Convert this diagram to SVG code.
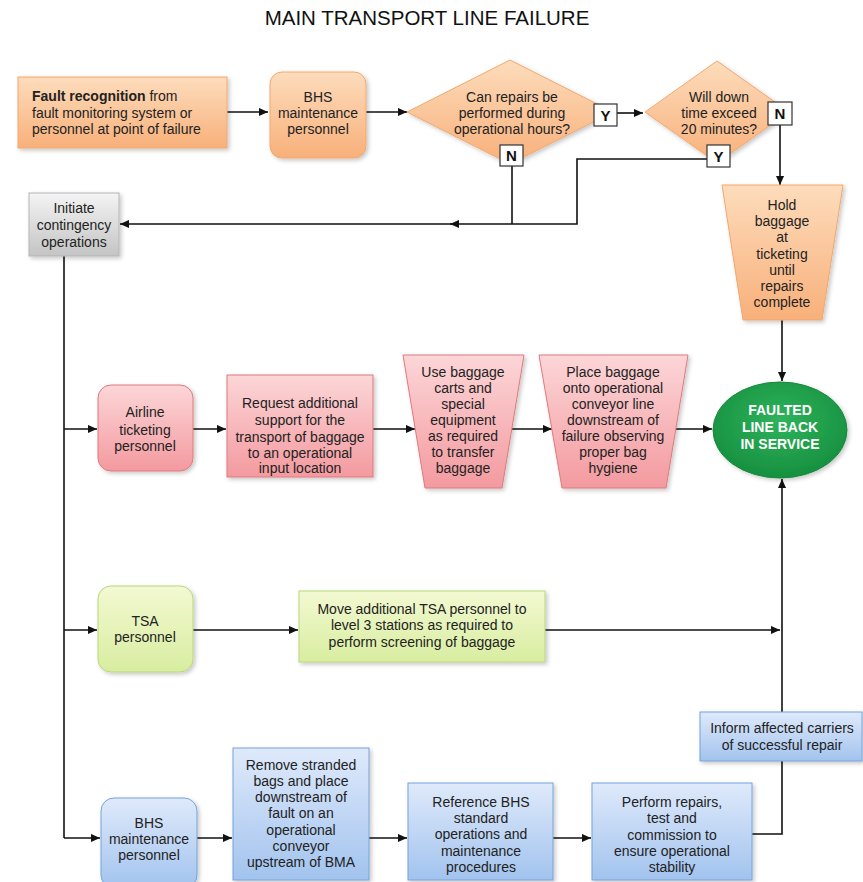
<svg xmlns="http://www.w3.org/2000/svg" width="863" height="882" viewBox="0 0 863 882">
  <defs>
    <linearGradient id="gOrange" x1="0" y1="0" x2="0" y2="1">
      <stop offset="0" stop-color="#fddcbc"/>
      <stop offset="1" stop-color="#f8b07a"/>
    </linearGradient>
    <linearGradient id="gRed" x1="0" y1="0" x2="0" y2="1">
      <stop offset="0" stop-color="#fcd6d8"/>
      <stop offset="1" stop-color="#f39a9f"/>
    </linearGradient>
    <linearGradient id="gGreen" x1="0" y1="0" x2="0" y2="1">
      <stop offset="0" stop-color="#f3f9d2"/>
      <stop offset="1" stop-color="#d8eda0"/>
    </linearGradient>
    <linearGradient id="gBlue" x1="0" y1="0" x2="0" y2="1">
      <stop offset="0" stop-color="#dfeafb"/>
      <stop offset="1" stop-color="#a2c3ee"/>
    </linearGradient>
    <linearGradient id="gGray" x1="0" y1="0" x2="0" y2="1">
      <stop offset="0" stop-color="#f4f4f4"/>
      <stop offset="1" stop-color="#c4c4c4"/>
    </linearGradient>
    <radialGradient id="gEnd" cx="0.5" cy="0.4" r="0.6">
      <stop offset="0" stop-color="#2fb35c"/>
      <stop offset="1" stop-color="#16903f"/>
    </radialGradient>
    <filter id="shadow" x="-10%" y="-10%" width="125%" height="125%">
      <feDropShadow dx="2" dy="2" stdDeviation="2" flood-color="#000" flood-opacity="0.22"/>
    </filter>
    <marker id="arrow" viewBox="0 0 10 10" refX="10" refY="5" markerWidth="9" markerHeight="9" markerUnits="userSpaceOnUse" orient="auto">
      <path d="M0,0.5 L10,5 L0,9.5 z" fill="#111"/>
    </marker>
  </defs>
  <style>
    text { font-family: "Liberation Sans", Arial, sans-serif; font-size: 14px; fill: #222; text-anchor: middle; }
    .title { font-size: 20.5px; fill: #111; }
    .left { text-anchor: start; }
    .b { font-weight: bold; }
    .end { fill: #fff; font-weight: bold; }
    .orange { fill: url(#gOrange); stroke: #f2a86c; stroke-width: 1; filter: url(#shadow); }
    .red { fill: url(#gRed); stroke: #e0797e; stroke-width: 1; filter: url(#shadow); }
    .green { fill: url(#gGreen); stroke: #b9d67c; stroke-width: 1; filter: url(#shadow); }
    .blue { fill: url(#gBlue); stroke: #76a2da; stroke-width: 1; filter: url(#shadow); }
    .gray { fill: url(#gGray); stroke: #b5b5b5; stroke-width: 1; filter: url(#shadow); }
    .tag { fill: #fff; stroke: #333; stroke-width: 1.2; }
    .tagt { font-weight: bold; font-size: 15px; fill: #111; }
    .conn path { fill: none; stroke: #111; stroke-width: 1.6; }
    .conn .a { marker-end: url(#arrow); }
  </style>

  <text class="title" x="427" y="25">MAIN TRANSPORT LINE FAILURE</text>

  <!-- connectors -->
  <g id="connectors" class="conn">
    <path class="a" d="M227,112 H268"/>
    <path class="a" d="M366,112 H407"/>
    <path class="a" d="M617,113 H643"/>
    <path class="a" d="M780,125 V185"/>
    <path d="M512,166 V224"/>
    <path class="a" d="M707,159 H577 V224 H450"/>
    <path class="a" d="M452,224 H120"/>
    <path class="a" d="M782,320 V381"/>
    <path d="M64,256 V838"/>
    <path class="a" d="M64,429 H97"/>
    <path class="a" d="M193,429 H226"/>
    <path class="a" d="M373,429 H415"/>
    <path class="a" d="M512,429 H552"/>
    <path class="a" d="M676,429 H712"/>
    <path class="a" d="M64,630 H97"/>
    <path class="a" d="M193,630 H298"/>
    <path class="a" d="M545,630 H780"/>
    <path class="a" d="M782,712 V479"/>
    <path class="a" d="M64,838 H100"/>
    <path class="a" d="M197,838 H232"/>
    <path class="a" d="M369,838 H407"/>
    <path class="a" d="M553,838 H591"/>
    <path d="M782,761 V834 H752"/>
  </g>

  <!-- top row -->
  <g id="fault-recognition">
    <rect class="orange" x="18" y="77" width="209" height="71"/>
    <text class="left" x="32" y="101"><tspan class="b">Fault recognition</tspan> from</text>
    <text class="left" x="32" y="118">fault monitoring system or</text>
    <text class="left" x="32" y="134">personnel at point of failure</text>
  </g>

  <g id="bhs-maintenance-top">
    <rect class="orange" x="270" y="72" width="96" height="86" rx="12"/>
    <text x="318" y="102">BHS</text>
    <text x="318" y="118">maintenance</text>
    <text x="318" y="134">personnel</text>
  </g>

  <g id="decision-operational-hours">
    <polygon class="orange" points="407,112 510,60 613,112 510,164"/>
    <text x="512" y="102">Can repairs be</text>
    <text x="512" y="118">performed during</text>
    <text x="512" y="134">operational hours?</text>
    <rect class="tag" x="594" y="104" width="23" height="22"/>
    <text class="tagt" x="605.5" y="120.5">Y</text>
    <rect class="tag" x="500" y="145" width="23" height="21"/>
    <text class="tagt" x="511.5" y="161">N</text>
  </g>

  <g id="decision-downtime">
    <polygon class="orange" points="645,112 717,61 789,112 717,163"/>
    <text x="719" y="102">Will down</text>
    <text x="719" y="118">time exceed</text>
    <text x="719" y="134">20 minutes?</text>
    <rect class="tag" x="768" y="102" width="24" height="23"/>
    <text class="tagt" x="780" y="119">N</text>
    <rect class="tag" x="707" y="145" width="23" height="22"/>
    <text class="tagt" x="718.5" y="161.5">Y</text>
  </g>

  <g id="hold-baggage">
    <polygon class="orange" points="722,185 843,185 822,320 743,320"/>
    <text x="782" y="210">Hold</text>
    <text x="782" y="226">baggage</text>
    <text x="782" y="242">at</text>
    <text x="782" y="259">ticketing</text>
    <text x="782" y="275">until</text>
    <text x="782" y="291">repairs</text>
    <text x="782" y="307">complete</text>
  </g>

  <g id="initiate-contingency">
    <rect class="gray" x="29" y="193" width="90" height="63"/>
    <text x="74" y="213">Initiate</text>
    <text x="74" y="230">contingency</text>
    <text x="74" y="247">operations</text>
  </g>

  <!-- airline row -->
  <g id="airline-ticketing">
    <rect class="red" x="98" y="385" width="95" height="86" rx="13"/>
    <text x="145" y="417">Airline</text>
    <text x="145" y="435">ticketing</text>
    <text x="145" y="451">personnel</text>
  </g>

  <g id="request-support">
    <rect class="red" x="227" y="375" width="146" height="102"/>
    <text x="300" y="408">Request additional</text>
    <text x="300" y="425">support for the</text>
    <text x="300" y="442">transport of baggage</text>
    <text x="300" y="458">to an operational</text>
    <text x="300" y="474" dy="-1">input location</text>
  </g>

  <g id="use-carts">
    <polygon class="red" points="403,355 524,355 502,488 425,488"/>
    <text x="463" y="377">Use baggage</text>
    <text x="463" y="393">carts and</text>
    <text x="463" y="409">special</text>
    <text x="463" y="425">equipment</text>
    <text x="463" y="441">as required</text>
    <text x="463" y="457">to transfer</text>
    <text x="463" y="473">baggage</text>
  </g>

  <g id="place-baggage">
    <polygon class="red" points="539,355 688,355 666,488 562,488"/>
    <text x="613" y="377">Place baggage</text>
    <text x="613" y="393">onto operational</text>
    <text x="613" y="409">conveyor line</text>
    <text x="613" y="425">downstream of</text>
    <text x="613" y="441">failure observing</text>
    <text x="613" y="457">proper bag</text>
    <text x="613" y="473">hygiene</text>
  </g>

  <g id="line-back-in-service">
    <ellipse cx="780" cy="430" rx="67" ry="48" fill="url(#gEnd)" stroke="#15873b" stroke-width="1" filter="url(#shadow)"/>
    <text class="end" x="780" y="415">FAULTED</text>
    <text class="end" x="780" y="432">LINE BACK</text>
    <text class="end" x="780" y="449">IN SERVICE</text>
  </g>

  <!-- TSA row -->
  <g id="tsa-personnel">
    <rect class="green" x="98" y="586" width="95" height="86" rx="13"/>
    <text x="145" y="626">TSA</text>
    <text x="145" y="642">personnel</text>
  </g>

  <g id="move-tsa">
    <rect class="green" x="299" y="591" width="246" height="71"/>
    <text x="422" y="614">Move additional TSA personnel to</text>
    <text x="422" y="630">level 3 stations as required to</text>
    <text x="422" y="647">perform screening of baggage</text>
  </g>

  <!-- BHS row -->
  <g id="inform-carriers">
    <rect class="blue" x="700" y="712" width="162" height="49"/>
    <text x="782" y="733">Inform affected carriers</text>
    <text x="782" y="750">of successful repair</text>
  </g>

  <g id="bhs-maintenance-bottom">
    <rect class="blue" x="101" y="798" width="96" height="90" rx="13"/>
    <text x="149" y="828">BHS</text>
    <text x="149" y="844">maintenance</text>
    <text x="149" y="860">personnel</text>
  </g>

  <g id="remove-stranded">
    <rect class="blue" x="233" y="748" width="136" height="132"/>
    <text x="301" y="770">Remove stranded</text>
    <text x="301" y="786">bags and place</text>
    <text x="301" y="802">downstream of</text>
    <text x="301" y="818">fault on an</text>
    <text x="301" y="835">operational</text>
    <text x="301" y="851">conveyor</text>
    <text x="301" y="867">upstream of BMA</text>
  </g>

  <g id="reference-procedures">
    <rect class="blue" x="408" y="783" width="145" height="97"/>
    <text x="481" y="807">Reference BHS</text>
    <text x="481" y="823">standard</text>
    <text x="481" y="839">operations and</text>
    <text x="481" y="856">maintenance</text>
    <text x="481" y="872">procedures</text>
  </g>

  <g id="perform-repairs">
    <rect class="blue" x="592" y="783" width="160" height="97"/>
    <text x="672" y="807">Perform repairs,</text>
    <text x="672" y="823">test and</text>
    <text x="672" y="840">commission to</text>
    <text x="672" y="856">ensure operational</text>
    <text x="672" y="872">stability</text>
  </g>
</svg>
